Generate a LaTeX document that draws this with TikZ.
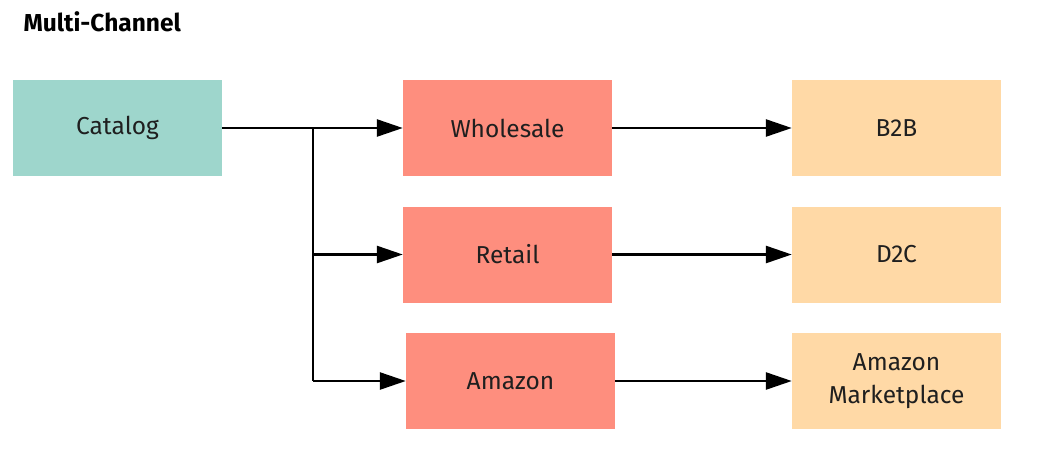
\documentclass[tikz,border=0pt]{standalone}
\usepackage{fontspec}
\setmainfont{Fira Sans}
\usetikzlibrary{arrows.meta}
\definecolor{teal1}{RGB}{158,214,204}
\definecolor{salmon1}{RGB}{254,142,126}
\definecolor{peach1}{RGB}{255,217,166}
\begin{document}
\begin{tikzpicture}[x=1pt,y=-1pt,
  box/.style={minimum width=209pt,minimum height=96pt,inner sep=0pt,font=\fontsize{24.5}{33}\selectfont,align=center,text=black!88},
  src/.style={box,fill=teal1},
  mid/.style={box,fill=salmon1},
  dst/.style={box,fill=peach1},
  conn/.style={line width=2.6pt,-{Triangle[length=26pt,width=17pt]}}]
\useasboundingbox (0,0) rectangle (1046,464);
\node[anchor=west,font=\bfseries\fontsize{24.5}{28}\selectfont] (title) at (20,22) {Multi-Channel};
\node[src] (cat) at (117.5,128) {Catalog};
\node[mid] (wh) at (507.5,128) {Wholesale};
\node[mid] (re) at (507.5,254.5) {Retail};
\node[mid] (am) at (510.5,381) {Amazon};
\node[dst] (b2b) at (896.5,128) {B2B};
\node[dst] (d2c) at (896.5,254.5) {D2C};
\node[dst] (amm) at (896.5,381) {Amazon\\Marketplace};
\coordinate (j) at (313,128);
\draw[conn] (cat.east) -- (wh.west);
\draw[line width=2.6pt] (j) -- (j |- am.west);
\draw[conn] (j |- re.west) -- (re.west);
\draw[conn] (j |- am.west) -- (am.west);
\draw[conn] (wh.east) -- (b2b.west);
\draw[conn] (re.east) -- (d2c.west);
\draw[conn] (am.east) -- (amm.west);
\end{tikzpicture}
\end{document}
